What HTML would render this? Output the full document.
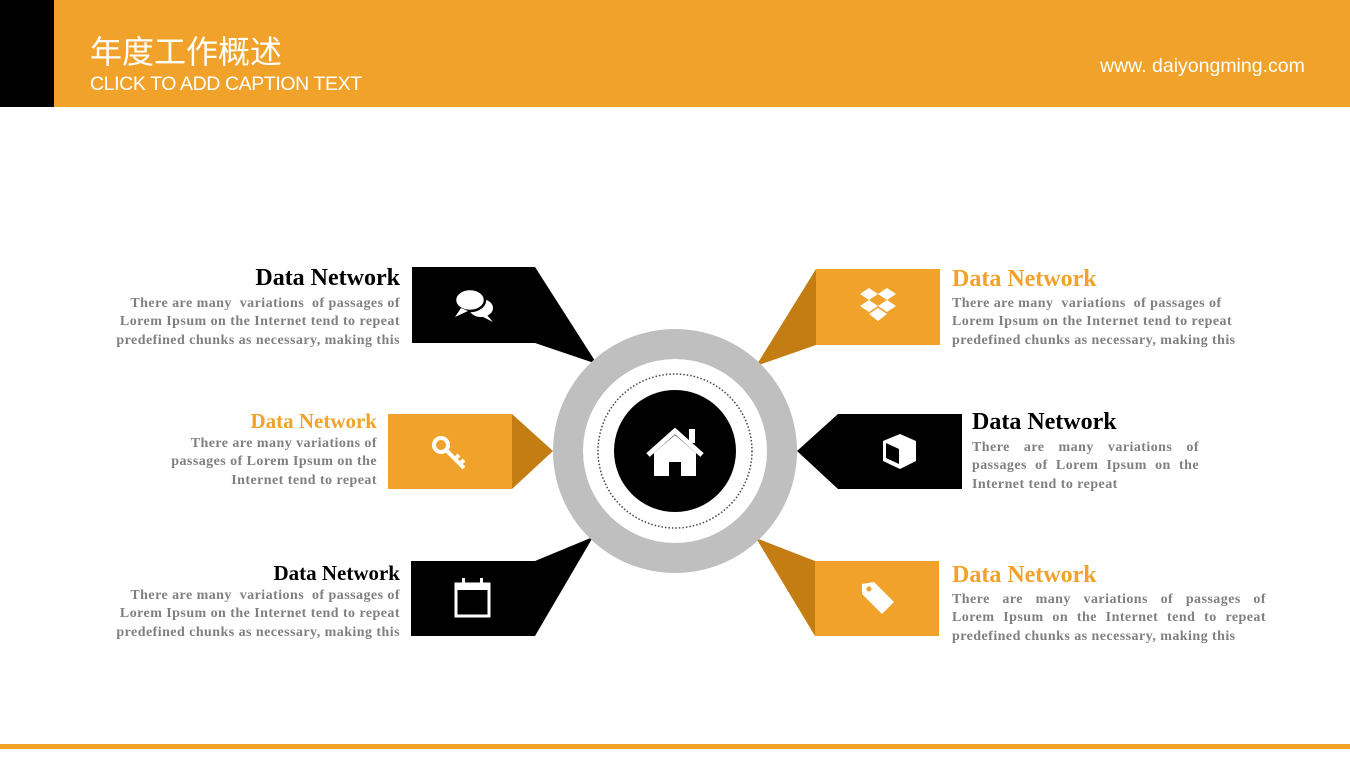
<!DOCTYPE html>
<html><head><meta charset="utf-8"><style>
body{margin:0;width:1350px;height:759px;position:relative;background:#fff;overflow:hidden;font-family:"Liberation Serif",serif}
.hd{position:absolute;left:0;top:0;width:1350px;height:107px;background:#f0a22a}
.blk{position:absolute;left:0;top:0;width:54px;height:107px;background:#000}
.t{position:absolute;white-space:nowrap}
.ti{font-weight:bold;font-size:24px;line-height:24px}
.ln{position:absolute;font-weight:bold;font-size:14px;letter-spacing:0.45px;color:#808080;white-space:nowrap;text-align:justify;text-align-last:justify;line-height:16px}
.r{text-align:right;text-align-last:right}
</style></head><body>
<div class="hd"></div><div class="blk"></div>
<div class="t" style="left:90px;top:27px;font:32px 'Liberation Sans','Noto Sans CJK SC',sans-serif;color:#fff">年度工作概述</div>
<div class="t" style="left:90px;top:73px;font:19.5px 'Liberation Sans',sans-serif;color:#fff;letter-spacing:-0.4px">CLICK TO ADD CAPTION TEXT</div>
<div class="t" style="left:1100px;top:55px;font:19.5px 'Liberation Sans',sans-serif;color:#fff">www. daiyongming.com</div>
<div style="position:absolute;left:0;top:744px;width:1350px;height:5px;background:#f0a22a"></div>

<svg width="1350" height="759" style="position:absolute;left:0;top:0">
<polygon points="412,267 535,267 597,364 535,343 412,343" fill="#000"/>
<rect x="816" y="269" width="124" height="76" fill="#f0a22a"/>
<polygon points="816,269 756,366 816,345" fill="#c47d12"/>
<rect x="388" y="414" width="124" height="75" fill="#f0a22a"/>
<polygon points="512,414 553,451 512,489" fill="#c47d12"/>
<polygon points="962,414 838,414 797,451 838,489 962,489" fill="#000"/>
<polygon points="411,561 535,561 593,537 535,636 411,636" fill="#000"/>
<rect x="815" y="561" width="124" height="75" fill="#f0a22a"/>
<polygon points="815,561 756,538 815,636" fill="#c47d12"/>
<circle cx="675" cy="451" r="122" fill="#bfbfbf"/>
<circle cx="675" cy="451" r="92" fill="#fff"/>
<circle cx="675" cy="451" r="77" fill="none" stroke="#444" stroke-width="1.5" stroke-dasharray="1.5 2"/>
<circle cx="675" cy="451" r="61" fill="#000"/>
<polyline points="648,455 675,431 702,455" fill="none" stroke="#fff" stroke-width="5"/>
<rect x="689" y="429" width="6" height="14" fill="#fff"/>
<polygon points="654,453 675,435 696,453 696,476 681,476 681,462 669,462 669,476 654,476" fill="#fff"/>
<ellipse cx="481" cy="308" rx="12" ry="9" fill="#fff"/>
<polygon points="486,314 493,322 481,316" fill="#fff"/>
<ellipse cx="470" cy="300" rx="15" ry="11" fill="#fff" stroke="#000" stroke-width="2.5"/>
<polygon points="461,308 455,317 468,311" fill="#fff"/>
<g fill="#fff"><polygon points="869,288 878,294 869,300 860,294"/><polygon points="887,288 896,294 887,300 878,294"/><polygon points="869,300 878,306 869,312 860,306"/><polygon points="887,300 896,306 887,312 878,306"/><polygon points="878,308 887,314 878,321 869,314"/></g>
<circle cx="441" cy="445" r="7" fill="none" stroke="#fff" stroke-width="4"/>
<path d="M446,450 L464,468 M455,459 l4,-4 M460,464 l4,-4" stroke="#fff" stroke-width="4"/>
<polygon points="900,434 916,441 916,461 900,469 883,461 883,441" fill="#fff"/>
<polygon points="886,443 899,449 899,464 886,458" fill="#000"/>
<rect x="456" y="584" width="33" height="32" fill="none" stroke="#fff" stroke-width="3"/>
<rect x="456" y="584" width="33" height="6" fill="#fff"/>
<rect x="462" y="578" width="3" height="8" fill="#fff"/><rect x="480" y="578" width="3" height="8" fill="#fff"/>
<path d="M862,584 L874,582 L894,602 L882,614 L862,594 Z" fill="#fff"/>
<circle cx="869" cy="589" r="2.5" fill="#f0a22a"/>
</svg>

<div class="t ti" style="right:950px;top:266px">Data Network</div>
<div class="ln r" style="right:950px;top:296px">There are many&nbsp; variations&nbsp; of passages of</div>
<div class="ln r" style="right:950px;top:314px">Lorem Ipsum on the Internet tend to repeat</div>
<div class="ln r" style="right:950px;top:333px">predefined chunks as necessary, making this</div>

<div class="t ti" style="right:973px;top:409px;color:#f0a22a;font-size:21px">Data Network</div>
<div class="ln r" style="right:973px;top:436px">There are many variations of</div>
<div class="ln r" style="right:973px;top:454px">passages of Lorem Ipsum on the</div>
<div class="ln r" style="right:973px;top:473px">Internet tend to repeat</div>

<div class="t ti" style="right:950px;top:561px;font-size:21px">Data Network</div>
<div class="ln r" style="right:950px;top:588px">There are many&nbsp; variations&nbsp; of passages of</div>
<div class="ln r" style="right:950px;top:606px">Lorem Ipsum on the Internet tend to repeat</div>
<div class="ln r" style="right:950px;top:625px">predefined chunks as necessary, making this</div>

<div class="t ti" style="left:952px;top:267px;color:#f0a22a">Data Network</div>
<div class="ln" style="left:952px;top:296px;text-align-last:left">There are many&nbsp; variations&nbsp; of passages of</div>
<div class="ln" style="left:952px;top:314px;text-align-last:left">Lorem Ipsum on the Internet tend to repeat</div>
<div class="ln" style="left:952px;top:333px;text-align-last:left">predefined chunks as necessary, making this</div>

<div class="t ti" style="left:972px;top:410px">Data Network</div>
<div class="ln" style="left:972px;top:440px;width:227px">There are many variations of</div>
<div class="ln" style="left:972px;top:458px;width:227px">passages of Lorem Ipsum on the</div>
<div class="ln" style="left:972px;top:477px;text-align-last:left">Internet tend to repeat</div>

<div class="t ti" style="left:952px;top:563px;color:#f0a22a">Data Network</div>
<div class="ln" style="left:952px;top:592px;width:314px">There are many variations of passages of</div>
<div class="ln" style="left:952px;top:610px;width:314px">Lorem Ipsum on the Internet tend to repeat</div>
<div class="ln" style="left:952px;top:629px;text-align-last:left">predefined chunks as necessary, making this</div>
</body></html>
